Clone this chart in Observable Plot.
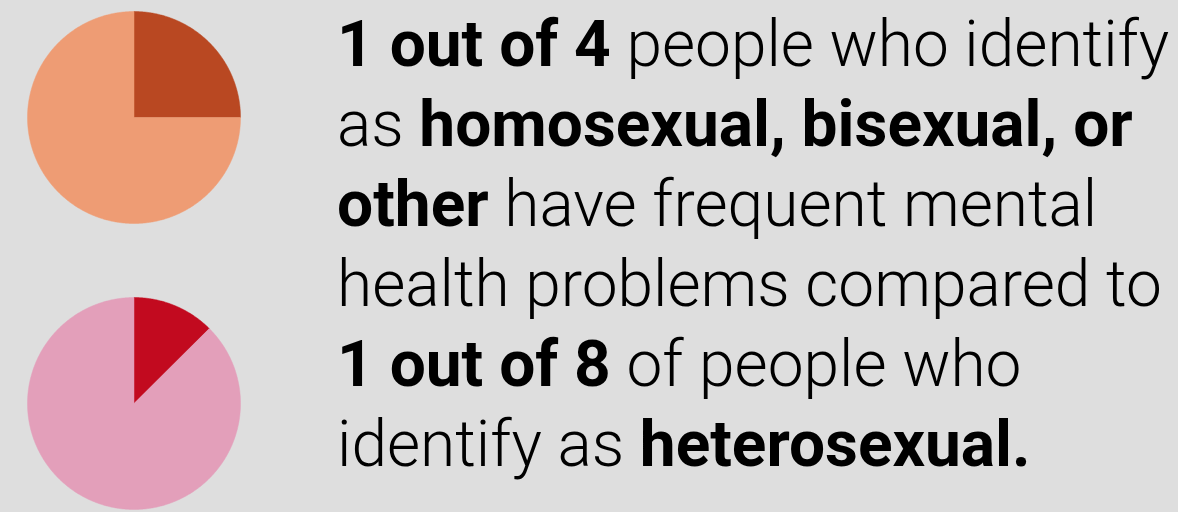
<!DOCTYPE html>
<html>
<head>
<meta charset="utf-8">
<script src="https://cdn.jsdelivr.net/npm/d3@7"></script>
<script src="https://cdn.jsdelivr.net/npm/@observablehq/plot@0.6"></script>
<style>
  html, body { margin: 0; padding: 0; background: #dedede; }
  #wrap { position: relative; width: 1178px; height: 512px; overflow: hidden; background: #dedede; }
  .pie { position: absolute; left: 0; }
  #text { position: absolute; left: 337px; top: 5px; width: 841px;
    font-family: Roboto, sans-serif; font-size: 64px; line-height: 80px; font-weight: 300; color: #000; white-space: nowrap; }
  #text b { font-weight: 700; }
</style>
</head>
<body>
<div id="wrap">
  <div id="pie0" class="pie" style="top:0px"></div>
  <div id="pie1" class="pie" style="top:256px"></div>
  <div id="text">
    <div><b>1 out of 4</b> people who identify</div>
    <div>as <b>homosexual, bisexual, or</b></div>
    <div><b>other</b> have frequent mental</div>
    <div>health problems compared to</div>
    <div><b>1 out of 8</b> of people who</div>
    <div>identify as <b>heterosexual.</b></div>
  </div>
</div>
<script>
// Data
const groups = ["homosexual, bisexual, or other", "heterosexual"];
const frequentShare = [1 / 4, 1 / 8];
const sliceLabels = ["frequent mental health problems", "other"];
const highlightColors = ["#b94822", "#c20a1f"];
const restColors = ["#ee9c74", "#e39fba"];

function slicePoints(share) {
  const pts = [];
  const parts = [[0, share], [share, 1]];
  parts.forEach(([a0, a1], si) => {
    const key = sliceLabels[si];
    pts.push({slice: key, x: 0, y: 0});
    const n = Math.max(2, Math.ceil((a1 - a0) * 720));
    for (let i = 0; i <= n; i++) {
      const a = (a0 + (a1 - a0) * i / n) * 2 * Math.PI;
      pts.push({slice: key, x: Math.sin(a), y: Math.cos(a)});
    }
    pts.push({slice: key, x: 0, y: 0});
  });
  return pts;
}

const margins = [
  {top: 11, bottom: 33},
  {top: 41, bottom: 3}
];

groups.forEach((g, gi) => {
  const pts = slicePoints(frequentShare[gi]);
  const chart = Plot.plot({
    width: 300,
    height: 256,
    marginLeft: 27,
    marginRight: 60,
    marginTop: margins[gi].top,
    marginBottom: margins[gi].bottom,
    x: {domain: [-1, 1], axis: null},
    y: {domain: [-1, 1], axis: null},
    color: {domain: sliceLabels, range: [highlightColors[gi], restColors[gi]]},
    style: {background: "transparent", overflow: "visible"},
    marks: [
      Plot.line(pts, {x: "x", y: "y", z: "slice", fill: "slice", stroke: "slice", strokeWidth: 0.5, curve: "linear"})
    ]
  });
  document.getElementById("pie" + gi).appendChild(chart);
});
</script>
</body>
</html>
